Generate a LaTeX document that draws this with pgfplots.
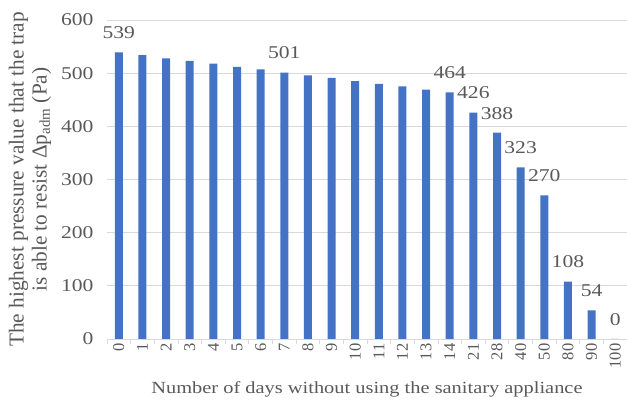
\documentclass[border=0pt]{standalone}
\usepackage{pgfplots}
\pgfplotsset{compat=1.18}
\usepackage{fontspec}
\setmainfont{Liberation Serif}[FakeStretch=1.2]
\newfontfamily\rotfont{Liberation Serif}
\usetikzlibrary{calc}
\definecolor{barblue}{HTML}{4472C4}
\definecolor{txtgray}{HTML}{595959}
\definecolor{gridgray}{HTML}{D9D9D9}
\pgfplotstableread{
x val
0 539
1 534
2 528
3 523
4 518
5 512
6 507
7 501
8 496
9 491
10 485
11 480
12 475
13 469
14 464
15 426
16 388
17 323
18 270
19 108
20 54
21 0
}\datatable
\begin{document}
\begin{tikzpicture}
\begin{axis}[
  name=ax,
  scale only axis,
  width=520bp, height=319bp,
  xmin=-0.5, xmax=21.5,
  ymin=0, ymax=600,
  ytick={0,100,...,600},
  xtick={0,...,21},
  xticklabels={0,1,2,3,4,5,6,7,8,9,10,11,12,13,14,21,28,40,50,80,90,100},
  minor xtick={-0.5,0.5,...,21.5},
  major tick length=0pt,
  minor tick length=5bp,
  tick align=outside,
  minor x tick style={draw=gridgray, line width=0.8bp},
  axis x line*=bottom,
  axis y line*=left,
  x axis line style={draw=gridgray, line width=0.8bp, -},
  y axis line style={draw=none},
  ymajorgrids,
  grid style={draw=gridgray, line width=0.8bp},
  ytick style={draw=none},
  yticklabel style={font=\fontsize{18bp}{20bp}\selectfont, text=txtgray, xshift=-10bp},
  xticklabel style={font=\rotfont\fontsize{16.5bp}{18bp}\selectfont, text=txtgray, rotate=90, anchor=east, xshift=-1bp},
  xlabel={Number of days without using the sanitary appliance},
  xlabel style={font=\fontsize{17bp}{20bp}\selectfont, text=txtgray, yshift=-6bp},
  ylabel={\rotfont The highest pressure value that the trap\\\rotfont is able to resist Δp\textsubscript{adm} (Pa)},
  ylabel style={font=\rotfont\fontsize{21.3bp}{23bp}\selectfont, text=txtgray, align=center, yshift=3bp},
  /pgf/number format/assume math mode=true,
  clip=false,
]
\addplot[ybar, bar width=8bp, fill=barblue, draw=none] table[x=x, y=val] {\datatable};
\addplot[draw=none, mark=none, nodes near coords, point meta=explicit symbolic,
  nodes near coords style={font=\fontsize{18bp}{20bp}\selectfont, text=txtgray, anchor=south, yshift=10bp}]
  coordinates {(0,539)[539] (7,501)[501] (14,464)[464] (15,426)[426] (16,388)[388] (17,323)[323] (18,270)[270] (19,108)[108] (20,54)[54] (21,0)[0]};
\end{axis}
\pgfresetboundingbox
\path ($(ax.south west)+(-107bp,-67bp)$) rectangle ($(ax.north east)+(0bp,20bp)$);
\end{tikzpicture}
\end{document}
